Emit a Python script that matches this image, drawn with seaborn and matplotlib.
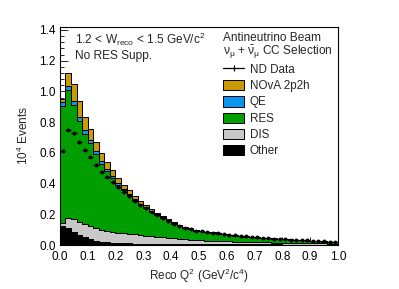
import numpy as np
import pandas as pd
import matplotlib
matplotlib.use("Agg")
import matplotlib.pyplot as plt
import seaborn as sns
from matplotlib.patches import Patch
from matplotlib.lines import Line2D
from matplotlib.ticker import MultipleLocator, FormatStrFormatter

# --- binning: 50 bins of reco Q2 between 0 and 1 GeV^2/c^4 ---
bin_edges = np.linspace(0.0, 1.0, 51)
q2_centres = 0.5 * (bin_edges[:-1] + bin_edges[1:])

# --- stacked MC components (units of 10^4 events) ---
mec_2p2h = [0.019, 0.082, 0.109, 0.104, 0.083, 0.070, 0.062, 0.055, 0.047, 0.040,
            0.032, 0.026, 0.022, 0.018, 0.016, 0.014, 0.012, 0.010, 0.008, 0.007,
            0.006, 0.005, 0.004, 0.003, 0.003, 0.002, 0.002, 0.002, 0.002, 0.002,
            0.002, 0.002, 0.002, 0.002, 0.002, 0.001, 0.001, 0.001, 0.001, 0.001,
            0.001, 0.001, 0.001, 0.001, 0.001, 0.001, 0.001, 0.001, 0.001, 0.001]
qe = [0.025, 0.026, 0.026, 0.026, 0.026, 0.022, 0.018, 0.015, 0.013, 0.012,
      0.010, 0.008, 0.007, 0.007, 0.006, 0.005, 0.004, 0.004, 0.003, 0.003,
      0.002, 0.002, 0.002, 0.002, 0.001, 0.001, 0.001, 0.001, 0.001, 0.001,
      0.001, 0.001, 0.001, 0.001, 0.001, 0.001, 0.001, 0.001, 0.001, 0.001,
      0.001, 0.001, 0.001, 0.001, 0.001, 0.001, 0.001, 0.001, 0.001, 0.001]
res = [0.764, 0.836, 0.745, 0.658, 0.586, 0.541, 0.482, 0.430, 0.388, 0.350,
       0.314, 0.284, 0.255, 0.224, 0.198, 0.179, 0.159, 0.141, 0.125, 0.110,
       0.093, 0.081, 0.072, 0.068, 0.061, 0.059, 0.056, 0.052, 0.048, 0.044,
       0.041, 0.038, 0.035, 0.033, 0.031, 0.030, 0.028, 0.026, 0.025, 0.023,
       0.023, 0.021, 0.020, 0.018, 0.017, 0.015, 0.014, 0.012, 0.011, 0.009]
dis = [0.017, 0.065, 0.080, 0.087, 0.087, 0.085, 0.082, 0.078, 0.074, 0.070,
       0.067, 0.064, 0.062, 0.059, 0.057, 0.053, 0.051, 0.047, 0.045, 0.042,
       0.040, 0.036, 0.033, 0.031, 0.028, 0.026, 0.024, 0.023, 0.022, 0.021,
       0.020, 0.019, 0.018, 0.017, 0.016, 0.015, 0.014, 0.013, 0.012, 0.012,
       0.011, 0.011, 0.010, 0.010, 0.009, 0.009, 0.008, 0.008, 0.007, 0.007]
other = [0.124, 0.109, 0.087, 0.065, 0.050, 0.037, 0.028, 0.022, 0.018, 0.015,
         0.013, 0.012, 0.011, 0.010, 0.009, 0.009, 0.008, 0.008, 0.007, 0.007,
         0.006, 0.006, 0.006, 0.005, 0.005, 0.005, 0.005, 0.005, 0.005, 0.005,
         0.004, 0.004, 0.004, 0.004, 0.004, 0.004, 0.004, 0.004, 0.004, 0.004,
         0.003, 0.003, 0.003, 0.003, 0.003, 0.003, 0.003, 0.003, 0.003, 0.003]

# --- ND data points ---
nd_data = [0.615, 0.749, 0.728, 0.669, 0.619, 0.573, 0.524, 0.476, 0.445, 0.410,
           0.375, 0.347, 0.318, 0.290, 0.263, 0.240, 0.217, 0.196, 0.177, 0.159,
           0.140, 0.124, 0.112, 0.103, 0.094, 0.090, 0.085, 0.080, 0.076, 0.071,
           0.067, 0.063, 0.059, 0.056, 0.053, 0.050, 0.047, 0.044, 0.042, 0.040,
           0.038, 0.036, 0.034, 0.032, 0.030, 0.028, 0.026, 0.024, 0.022, 0.021]

component_names = ["NOvA 2p2h", "QE", "RES", "DIS", "Other"]
component_colors = {"NOvA 2p2h": "#C99A06", "QE": "#0A96F0", "RES": "#019E01",
                    "DIS": "#C8C8C8", "Other": "#000000"}

# long table for seaborn (weights = bin content)
frames = []
for name, vals in zip(component_names, [mec_2p2h, qe, res, dis, other]):
    frames.append(pd.DataFrame({"q2": q2_centres, "w": vals, "comp": name}))
df = pd.concat(frames, ignore_index=True)

sns.set_theme(style="ticks")
plt.rcParams["font.family"] = ["Liberation Sans", "DejaVu Sans"]
plt.rcParams["mathtext.fontset"] = "custom"
plt.rcParams["mathtext.rm"] = "Liberation Sans"
plt.rcParams["mathtext.it"] = "Liberation Sans"
plt.rcParams["mathtext.bf"] = "Liberation Sans:bold"

fig = plt.figure(figsize=(3.99, 2.89), dpi=100)
ax = fig.add_axes([0.150, 0.152, 0.697, 0.755])

# stacked MC (first hue level ends on top of the stack)
sns.histplot(data=df, x="q2", weights="w", hue="comp", hue_order=component_names,
             palette=component_colors, multiple="stack", bins=50, binrange=(0, 1),
             element="step", fill=True, alpha=1.0, edgecolor="black",
             linewidth=0.7, legend=False, ax=ax)

data_arr = np.array(nd_data)
data_err = np.sqrt(data_arr * 1e4) / 1e4
ax.errorbar(q2_centres, data_arr, xerr=0.01, yerr=data_err, fmt="o", color="black",
            markersize=1.8, elinewidth=0.9, capsize=0, zorder=5)

ax.set_xlim(0, 1.0)
ax.set_ylim(0, 1.42)
ax.xaxis.set_major_locator(MultipleLocator(0.1))
ax.xaxis.set_minor_locator(MultipleLocator(0.02))
ax.yaxis.set_major_locator(MultipleLocator(0.2))
ax.yaxis.set_minor_locator(MultipleLocator(0.04))
ax.tick_params(which="both", direction="in", labelsize=8.5,
               colors="black", width=0.6)
ax.tick_params(axis="x", pad=4)
ax.tick_params(axis="y", pad=3)
ax.tick_params(which="major", length=6)
ax.tick_params(which="minor", length=3)
ax.xaxis.set_major_formatter(FormatStrFormatter("%.1f"))
ax.yaxis.set_major_formatter(FormatStrFormatter("%.1f"))
for sp in ax.spines.values():
    sp.set_linewidth(0.8)
    sp.set_color("black")

ax.set_xlabel(r"Reco Q$^{2}$ (GeV$^{2}$/c$^{4}$)", fontsize=8.5, labelpad=3)
ax.set_ylabel(r"10$^{4}$ Events", fontsize=8.5, labelpad=6)

ax.text(0.055, 0.945, r"1.2 < W$_{\mathregular{reco}}$ < 1.5 GeV/c$^{2}$",
        transform=ax.transAxes, fontsize=8.6, va="center")
ax.text(0.055, 0.868, "No RES Supp.", transform=ax.transAxes, fontsize=8.6, va="center")

ax.text(0.588, 0.95, "Antineutrino Beam", transform=ax.transAxes, fontsize=8.6, va="center")
ax.text(0.588, 0.885, r"$\mathregular{\nu_{\mu}}$ + $\mathregular{\bar{\nu}_{\mu}}$ CC Selection",
        transform=ax.transAxes, fontsize=8.6, va="center")

data_handle = Line2D([], [], color="black", linewidth=0.9, marker="|",
                     markersize=5, markeredgewidth=0.9)
handles = [data_handle] + [Patch(facecolor=component_colors[n], edgecolor="black",
                                 linewidth=0.7) for n in component_names]
labels = ["ND Data"] + component_names
ax.legend(handles, labels, loc="upper left", bbox_to_anchor=(0.588, 0.83),
          frameon=False, fontsize=8.4, handlelength=1.75, handleheight=0.95,
          labelspacing=0.36, handletextpad=0.5, borderaxespad=0, borderpad=0)

fig.savefig("out.png", dpi=100)
